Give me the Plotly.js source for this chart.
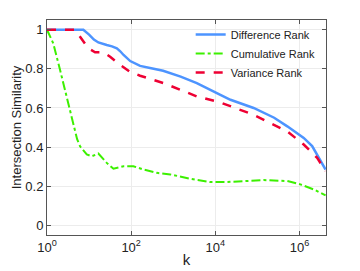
<!DOCTYPE html>
<html>
<head>
<meta charset="utf-8">
<script src="https://cdn.plot.ly/plotly-3.0.1.min.js"></script>
<style>html,body{margin:0;padding:0;background:#fff;}#chart{width:360px;height:271px;}</style>
</head>
<body>
<div id="chart"></div>
<script>
var diffK = [1, 7.3, 10, 13, 16.6, 21, 26.3, 35, 45.7, 55, 66, 95, 163, 300, 575, 1500, 3630, 13200, 22900, 81300, 250000, 513000, 1260000, 2000000, 2630000, 3500000, 4170000];
var diffV = [1, 1, 0.975, 0.95, 0.935, 0.927, 0.922, 0.915, 0.905, 0.89, 0.871, 0.84, 0.815, 0.803, 0.79, 0.76, 0.727, 0.667, 0.642, 0.60, 0.55, 0.506, 0.447, 0.405, 0.362, 0.315, 0.285];

var cumK = [1, 1.41, 2.04, 2.95, 4.23, 5.2, 6.1, 8.8, 11.6, 16.6, 26.3, 38, 66, 113, 195, 407, 850, 2520, 7590, 19000, 141000, 513000, 1050000, 2190000, 4170000];
var cumV = [1, 0.93, 0.795, 0.659, 0.523, 0.44, 0.404, 0.362, 0.353, 0.367, 0.319, 0.289, 0.302, 0.302, 0.285, 0.268, 0.26, 0.238, 0.221, 0.221, 0.231, 0.226, 0.209, 0.183, 0.153];

var varK = [1, 4.64, 6.1, 7.8, 9.6, 13.9, 21.9, 31.6, 54.9, 95, 163, 589, 3640, 13200, 22900, 81300, 513000, 1260000, 2630000, 3500000, 4170000];
var varV = [1, 1, 0.964, 0.93, 0.905, 0.885, 0.885, 0.862, 0.82, 0.784, 0.765, 0.727, 0.659, 0.628, 0.608, 0.565, 0.48, 0.413, 0.345, 0.305, 0.277];

var xTickVals = [1, 100, 10000, 1000000];
var xTickText = ['10<sup>0</sup>', '10<sup>2</sup>', '10<sup>4</sup>', '10<sup>6</sup>'];
var yTickVals = [0, 0.2, 0.4, 0.6, 0.8, 1];
var yTickText = ['0', '0.2', '0.4', '0.6', '0.8', '1'];

var traces = [
  {x: diffK, y: diffV, name: 'Difference Rank', mode: 'lines',
   line: {color: '#4d94ff', width: 2.5}},
  {x: cumK, y: cumV, name: 'Cumulative Rank', mode: 'lines',
   line: {color: '#3cf000', width: 2, dash: 'dashdot'}},
  {x: varK, y: varV, name: 'Variance Rank', mode: 'lines',
   line: {color: '#ee0033', width: 2.5, dash: 'dash'}}
];

var font = 'Liberation Sans, Arial, sans-serif';
var layout = {
  width: 360, height: 271,
  margin: {l: 47, r: 34, t: 20, b: 36},
  paper_bgcolor: '#fff', plot_bgcolor: '#fff',
  font: {family: font, size: 13, color: '#222'},
  showlegend: true,
  legend: {x: 0.515, y: 1.0, xanchor: 'left', yanchor: 'top', bgcolor: 'rgba(255,255,255,0)',
           font: {family: font, size: 11, color: '#222'}, itemwidth: 30, tracegroupgap: 0},
  xaxis: {type: 'log', range: [0, 6.63], tickvals: xTickVals, ticktext: xTickText,
          ticks: 'inside', ticklen: 4, tickcolor: '#555', showline: true, linecolor: '#555', mirror: 'ticks',
          showgrid: true, gridcolor: '#ececec', zeroline: false, automargin: false,
          tickfont: {size: 13, color: '#222'},
          title: {text: 'k', font: {size: 15, color: '#222'}, standoff: 0}},
  yaxis: {range: [-0.05, 1.05], tickvals: yTickVals, ticktext: yTickText,
          ticks: 'inside', ticklen: 4, tickcolor: '#555', showline: true, linecolor: '#555', mirror: 'ticks',
          showgrid: true, gridcolor: '#ececec', zeroline: false, automargin: false,
          tickfont: {size: 13, color: '#222'},
          title: {text: 'Intersection Similarity', font: {size: 13, color: '#222'}, standoff: 0}}
};

Plotly.newPlot('chart', traces, layout, {displayModeBar: false, staticPlot: true});
</script>
</body>
</html>
